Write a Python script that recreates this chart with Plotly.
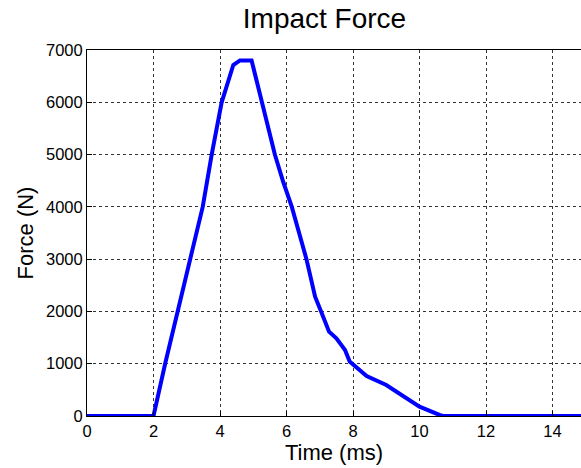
import plotly.graph_objects as go

time_ms = [0, 2.0, 2.35, 2.73, 3.1, 3.48, 3.75, 4.05, 4.4, 4.6, 4.95, 5.25, 5.65, 5.9,
           6.16, 6.6, 6.86, 7.04, 7.28, 7.5, 7.76, 7.9, 8.41, 9.0, 9.51, 10.0, 10.6, 10.7, 15]
force_n = [0, 0, 1000, 2000, 3000, 4000, 5000, 6000, 6713, 6800, 6800, 6000, 5000, 4480,
           4000, 3000, 2282, 2000, 1613, 1485, 1262, 1040, 765, 593, 370, 178, 20, 0, 0]
x_ticks = [0, 2, 4, 6, 8, 10, 12, 14]
y_ticks = [0, 1000, 2000, 3000, 4000, 5000, 6000, 7000]

font_family = "Arial, Liberation Sans, sans-serif"

fig = go.Figure()
fig.add_trace(go.Scatter(x=time_ms, y=force_n, mode="lines",
                         line=dict(color="#0000FF", width=4), showlegend=False))

fig.update_layout(
    width=581, height=468,
    margin=dict(l=87, r=0, t=50, b=52, autoexpand=False),
    paper_bgcolor="white", plot_bgcolor="white",
    font=dict(family=font_family, color="black"),
    title=dict(text="Impact Force", x=324.5/581, xanchor="center", xref="container",
               y=1 - 8/468, yanchor="top", yref="container",
               font=dict(size=28, color="black")),
)

fig.update_xaxes(
    range=[0, (581 - 87) / 33.25], tickvals=x_ticks, ticktext=[str(v) for v in x_ticks],
    showline=True, linecolor="black", linewidth=1, mirror=True,
    ticks="inside", ticklen=5, tickcolor="black",
    showgrid=True, gridcolor="#333333", gridwidth=1, griddash="3px,3px",
    tickfont=dict(size=16.5, family=font_family, color="black"),
    title=dict(text="Time (ms)", font=dict(size=22, family=font_family, color="black"), standoff=5),
    zeroline=False, automargin=False,
)
fig.update_yaxes(
    range=[0, 7000], tickvals=y_ticks, ticktext=[str(v) for v in y_ticks],
    showline=True, linecolor="black", linewidth=1, mirror=False,
    ticks="inside", ticklen=5, tickcolor="black",
    showgrid=True, gridcolor="#333333", gridwidth=1, griddash="3px,3px",
    tickfont=dict(size=16.5, family=font_family, color="black"),
    title=dict(text="Force (N)", font=dict(size=22, family=font_family, color="black"), standoff=6),
    zeroline=False, automargin=False,
)

fig.write_html("out.html", config={"displayModeBar": False},
               post_script="document.body.style.margin='0';")
